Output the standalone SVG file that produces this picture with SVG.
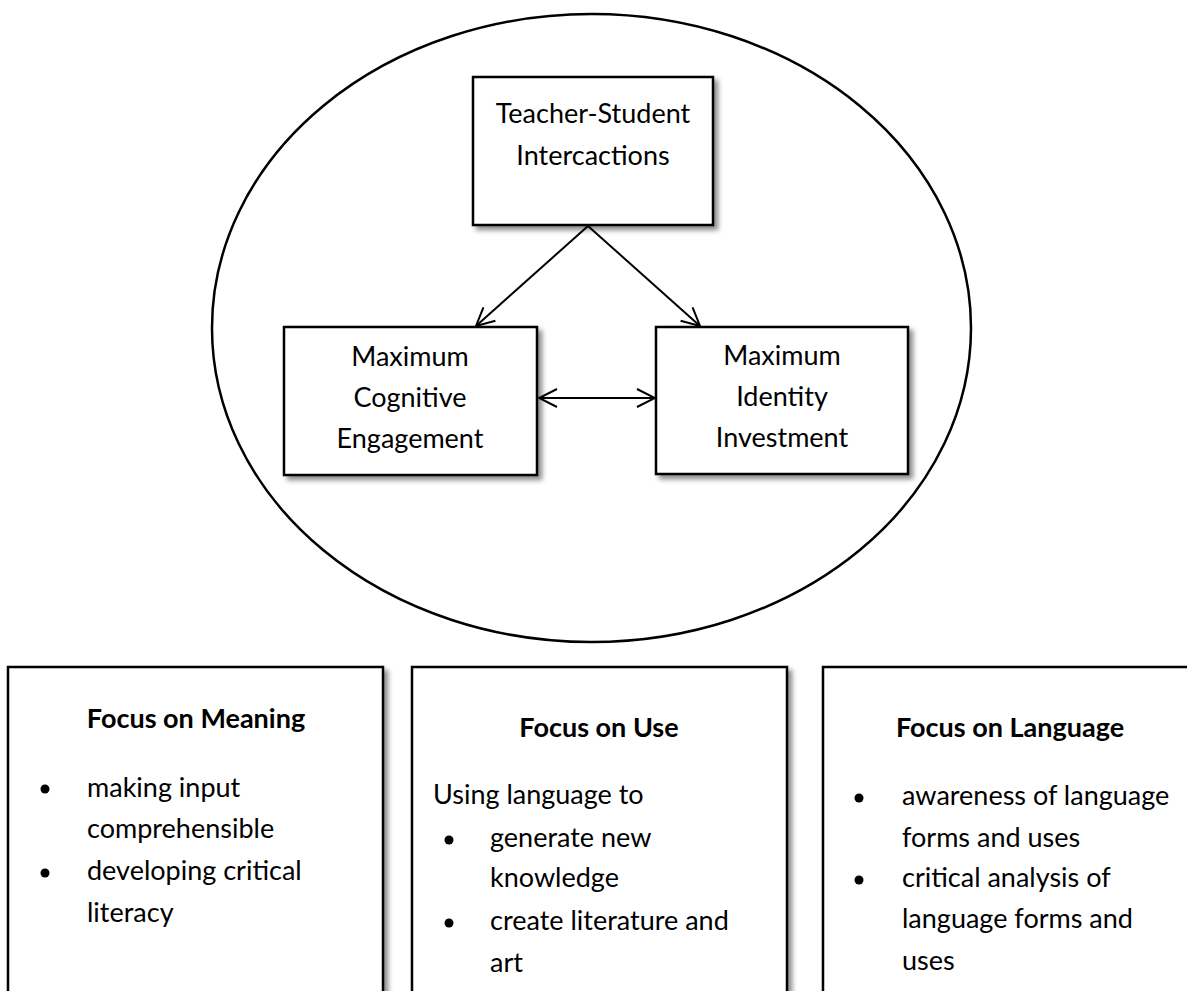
<svg xmlns="http://www.w3.org/2000/svg" width="1187" height="991" viewBox="0 0 1187 991">
<style>
  .box{fill:#fff;stroke:#000;stroke-width:2.5;filter:url(#sh)}
  .t{font-family:Lato,"Open Sans",sans-serif;font-size:27px;fill:#000}
  .c{text-anchor:middle}
  .b{font-weight:bold}
  .ln{stroke:#000;stroke-width:2;fill:none}
</style>
<defs>
  <filter id="sh" x="-10%" y="-10%" width="130%" height="130%">
    <feDropShadow dx="4" dy="4" stdDeviation="2.5" flood-color="#000" flood-opacity="0.45"/>
  </filter>
  <marker id="ah" viewBox="0 0 20 20" refX="19" refY="10" markerWidth="20" markerHeight="20" markerUnits="userSpaceOnUse" orient="auto-start-reverse">
    <path d="M1,1 L19,10 L1,19" fill="none" stroke="#000" stroke-width="2"/>
  </marker>
</defs>
<rect width="1187" height="991" fill="#fff"/>
<g id="circle">
  <ellipse cx="591.5" cy="328" rx="379.5" ry="314" fill="none" stroke="#000" stroke-width="2.5"/>
</g>
<g id="connectors">
  <line class="ln" x1="588" y1="226" x2="476" y2="326" marker-end="url(#ah)"/>
  <line class="ln" x1="588" y1="226" x2="700" y2="326" marker-end="url(#ah)"/>
  <line class="ln" x1="539" y1="398" x2="655" y2="398" marker-start="url(#ah)" marker-end="url(#ah)"/>
</g>
<g id="teacher">
  <rect class="box" x="473" y="77" width="240" height="148"/>
  <text class="t c" x="593" y="123">Teacher-Student</text>
  <text class="t c" x="593" y="165">Intercactions</text>
</g>
<g id="cognitive">
  <rect class="box" x="284" y="327" width="253" height="148"/>
  <text class="t c" x="410" y="366">Maximum</text>
  <text class="t c" x="410" y="407">Cognitive</text>
  <text class="t c" x="410" y="448">Engagement</text>
</g>
<g id="identity">
  <rect class="box" x="656" y="327" width="252" height="147"/>
  <text class="t c" x="782" y="365">Maximum</text>
  <text class="t c" x="782" y="406">Identity</text>
  <text class="t c" x="782" y="447">Investment</text>
</g>
<g id="meaning">
  <rect class="box" x="8" y="667" width="375" height="340"/>
  <text class="t c b" x="196" y="728">Focus on Meaning</text>
  <circle cx="45" cy="789" r="4.5"/>
  <text class="t" x="87" y="797">making input</text>
  <text class="t" x="87" y="838">comprehensible</text>
  <circle cx="45" cy="873" r="4.5"/>
  <text class="t" x="87" y="880">developing critical</text>
  <text class="t" x="87" y="922">literacy</text>
</g>
<g id="use">
  <rect class="box" x="412" y="667" width="375" height="340"/>
  <text class="t c b" x="599" y="737">Focus on Use</text>
  <text class="t" x="433" y="804">Using language to</text>
  <circle cx="449" cy="840" r="4.5"/>
  <text class="t" x="490" y="847">generate new</text>
  <text class="t" x="490" y="887">knowledge</text>
  <circle cx="449" cy="923" r="4.5"/>
  <text class="t" x="490" y="930">create literature and</text>
  <text class="t" x="490" y="972">art</text>
</g>
<g id="language">
  <rect class="box" x="823" y="667" width="380" height="340"/>
  <text class="t c b" x="1010" y="737">Focus on Language</text>
  <circle cx="859" cy="798" r="4.5"/>
  <text class="t" x="902" y="805">awareness of language</text>
  <text class="t" x="902" y="847">forms and uses</text>
  <circle cx="859" cy="880" r="4.5"/>
  <text class="t" x="902" y="887">critical analysis of</text>
  <text class="t" x="902" y="928">language forms and</text>
  <text class="t" x="902" y="970">uses</text>
</g>
</svg>
